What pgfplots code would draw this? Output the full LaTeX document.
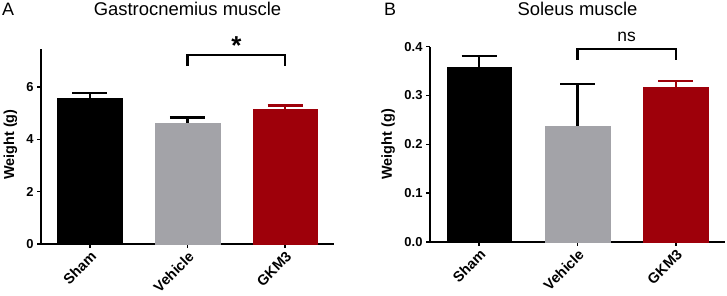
\documentclass[border=0pt]{standalone}
\usepackage{pgfplots}
\pgfplotsset{compat=1.18}
\usepackage{fontspec}
\setmainfont{Liberation Sans}
\definecolor{vgray}{RGB}{163,163,168}
\definecolor{gred}{RGB}{158,0,10}
\pgfplotsset{
  panel/.style={
    scale only axis,
    axis lines*=left,
    axis line style={-, line width=1.4bp},
    tick style={line width=1.4bp, black},
    tick align=outside,
    major tick length=4bp,
    xmin=-0.5, xmax=2.5,
    xtick={0,1,2},
    xticklabels={Sham,Vehicle,GKM3},
    x tick label style={font=\bfseries\fontsize{14.5}{16}\selectfont, rotate=45, anchor=north east, inner sep=1.5bp},
    y tick label style={font=\bfseries\fontsize{13}{15}\selectfont},
    /pgf/number format/assume math mode=true,
    ymin=0,
    ylabel={Weight (g)},
    ylabel style={font=\bfseries\fontsize{14.5}{16}\selectfont, anchor=center},
    clip=false,
  },
  errbar/.style={
      ybar, bar width=0.66, bar shift=0,
      error bars/y dir=plus, error bars/y explicit,
      error bars/error bar style={line width=2.2bp, #1},
      error bars/error mark options={rotate=90, mark size=17.5bp, line width=2.2bp, #1},
  },
  bracket/.style={sharp plot, line width=2.2bp, black, mark=none, forget plot},
}
\begin{document}
\begin{tikzpicture}
\useasboundingbox (0,0) rectangle (727bp,296bp);
% Panel A
\begin{axis}[panel,
  at={(41bp,52bp)}, anchor=south west,
  width=293bp, height=195bp,
  ymax=7.46, ytick={0,2,4,6},
  ylabel style={at={(axis description cs:-0.104,0.51)}},
]
\addplot[errbar=black, fill=black, draw=black]
  coordinates {(0,5.56) +- (0,0.23)};
\addplot[errbar=black, fill=vgray, draw=vgray]
  coordinates {(1,4.64) +- (0,0.20)};
\addplot[errbar=gred, fill=gred, draw=gred]
  coordinates {(2,5.16) +- (0,0.14)};
\addplot[bracket] coordinates {(1,6.8) (1,7.23) (2,7.23) (2,6.8)};
\node[font=\bfseries\fontsize{26}{26}\selectfont] at (axis cs:1.5,7.58) {*};
\end{axis}
% Panel B
\begin{axis}[panel,
  at={(430bp,54bp)}, anchor=south west,
  width=295bp, height=195.3bp,
  ymax=0.4, ytick={0,0.1,0.2,0.3,0.4},
  yticklabel style={/pgf/number format/.cd, fixed, fixed zerofill, precision=1},
  ylabel style={at={(axis description cs:-0.142,0.5)}},
]
\addplot[errbar=black, fill=black, draw=black]
  coordinates {(0,0.359) +- (0,0.022)};
\addplot[errbar=black, fill=vgray, draw=vgray]
  coordinates {(1,0.238) +- (0,0.086)};
\addplot[errbar=gred, fill=gred, draw=gred]
  coordinates {(2,0.317) +- (0,0.013)};
\addplot[bracket] coordinates {(1,0.373) (1,0.395) (2,0.395) (2,0.373)};
\node[font=\fontsize{17.5}{17.5}\selectfont, anchor=base] at (axis cs:1.5,0.41) {ns};
\end{axis}
% titles and panel letters
\node[anchor=base, font=\fontsize{18.5}{19}\selectfont] at (187.5bp,280bp) {Gastrocnemius muscle};
\node[anchor=base, font=\fontsize{18.5}{19}\selectfont] at (577.5bp,280bp) {Soleus muscle};
\node[anchor=base west, inner sep=0pt, font=\fontsize{18}{19}\selectfont] at (2bp,280bp) {A};
\node[anchor=base west, inner sep=0pt, font=\fontsize{18}{19}\selectfont] at (384bp,280bp) {B};
\end{tikzpicture}
\end{document}
